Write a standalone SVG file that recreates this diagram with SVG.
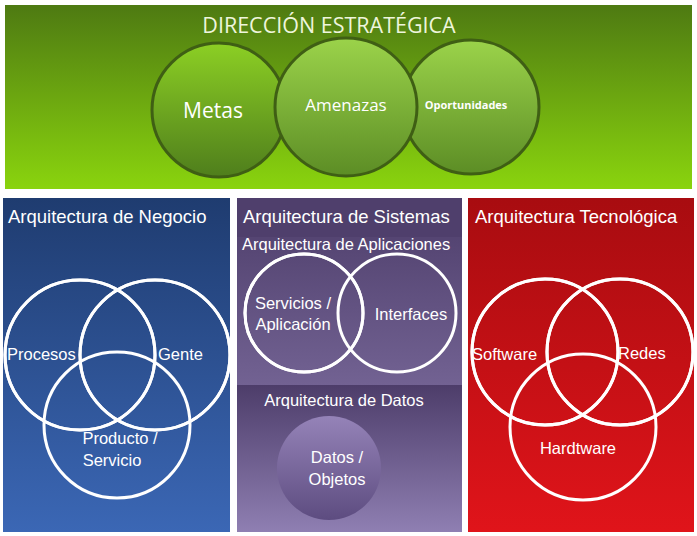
<svg xmlns="http://www.w3.org/2000/svg" width="697" height="536" viewBox="0 0 697 536">
<style>
text{font-family:"Open Sans","Liberation Sans",sans-serif;fill:#fff}
.h{font-family:"Liberation Sans",sans-serif;font-size:18.5px}
.l{font-family:"Liberation Sans",sans-serif;font-size:16.5px}
.w{fill:none;stroke:#fff;stroke-width:3}
.g{stroke:#3f5f14;stroke-width:3}
</style>
<defs>
<linearGradient id="gb" x1="0" y1="0" x2="0" y2="1"><stop offset="0" stop-color="#4e7a12"/><stop offset="1" stop-color="#8ad40e"/></linearGradient>
<linearGradient id="gc1" x1="0" y1="0" x2="0" y2="1"><stop offset="0" stop-color="#8ccf24"/><stop offset="1" stop-color="#4f7e1c"/></linearGradient>
<linearGradient id="gc2" x1="0" y1="0" x2="0" y2="1"><stop offset="0" stop-color="#9bd34a"/><stop offset="1" stop-color="#5c8d25"/></linearGradient>
<linearGradient id="bb" x1="0" y1="0" x2="0" y2="1"><stop offset="0" stop-color="#1f3c70"/><stop offset="1" stop-color="#3b67b5"/></linearGradient>
<linearGradient id="bc" x1="0" y1="0" x2="0" y2="1"><stop offset="0" stop-color="#3b6fc9" stop-opacity=".8"/><stop offset="1" stop-color="#1f3f7a" stop-opacity=".6"/></linearGradient>
<linearGradient id="pb" x1="0" y1="0" x2="0" y2="1"><stop offset="0" stop-color="#4d3d6a"/><stop offset="1" stop-color="#8f7fb2"/></linearGradient>
<linearGradient id="pc" x1="0" y1="0" x2="0" y2="1"><stop offset="0" stop-color="#9583b8"/><stop offset="1" stop-color="#5d4c80"/></linearGradient>
<linearGradient id="rb" x1="0" y1="0" x2="0" y2="1"><stop offset="0" stop-color="#a80c10"/><stop offset="1" stop-color="#e0141a"/></linearGradient>
<linearGradient id="rc" x1="0" y1="0" x2="0" y2="1"><stop offset="0" stop-color="#e8171c" stop-opacity=".7"/><stop offset="1" stop-color="#a00a0e" stop-opacity=".6"/></linearGradient>
</defs>
<rect width="697" height="536" fill="#fff"/>
<g id="estrategica">
<rect x="5" y="5" width="687" height="184" fill="url(#gb)"/>
<text x="329" y="33" text-anchor="middle" font-size="21.5" style="fill:#eef5dc">DIRECCIÓN ESTRATÉGICA</text>
<ellipse cx="219" cy="110" rx="67" ry="67" fill="url(#gc1)" class="g"/>
<ellipse cx="471" cy="107" rx="68" ry="67" fill="url(#gc2)" class="g"/>
<ellipse cx="346" cy="107" rx="71" ry="69" fill="url(#gc2)" class="g"/>
<text x="213" y="118" text-anchor="middle" font-size="21">Metas</text>
<text x="346" y="111" text-anchor="middle" font-size="17">Amenazas</text>
<text x="466" y="109" text-anchor="middle" font-size="11" font-weight="bold">Oportunidades</text>
</g>
<g id="negocio">
<rect x="3" y="198" width="227" height="334" fill="url(#bb)"/>
<text x="8" y="223" class="h">Arquitectura de Negocio</text>
<circle cx="80" cy="355" r="75" fill="url(#bc)" class="w"/>
<circle cx="155" cy="355" r="75" fill="url(#bc)" class="w"/>
<circle cx="117" cy="425" r="73" fill="url(#bc)" class="w"/>
<circle cx="80" cy="355" r="75" class="w"/>
<circle cx="155" cy="355" r="75" class="w"/>
<text x="7" y="360" class="l">Procesos</text>
<text x="158" y="360" class="l">Gente</text>
<text x="120" y="444" text-anchor="middle" class="l">Producto /</text>
<text x="112" y="466" text-anchor="middle" class="l">Servicio</text>
</g>
<g id="sistemas">
<rect x="237" y="198" width="225" height="334" fill="url(#pb)"/>
<rect x="237" y="198" width="225" height="39" fill="#4f3f6c"/>
<rect x="237" y="385" width="225" height="147" fill="url(#pb)"/>
<text x="243" y="223" class="h">Arquitectura de Sistemas</text>
<text x="242" y="250" class="l">Arquitectura de Aplicaciones</text>
<circle cx="304" cy="313" r="59" fill="url(#pc)" class="w"/>
<circle cx="397" cy="313" r="59" fill="url(#pc)" class="w" fill-opacity=".8"/>
<circle cx="304" cy="313" r="59" class="w"/>
<text x="293" y="309" text-anchor="middle" class="l">Servicios /</text>
<text x="293" y="330" text-anchor="middle" class="l">Aplicación</text>
<text x="411" y="320" text-anchor="middle" class="l">Interfaces</text>
<text x="344" y="406" text-anchor="middle" class="l">Arquitectura de Datos</text>
<circle cx="329" cy="468" r="52" fill="url(#pc)"/>
<text x="337" y="463" text-anchor="middle" class="l">Datos /</text>
<text x="337" y="485" text-anchor="middle" class="l">Objetos</text>
</g>
<g id="tecnologica">
<rect x="468" y="198" width="226" height="334" fill="url(#rb)"/>
<text x="475" y="223" class="h">Arquitectura Tecnológica</text>
<circle cx="545" cy="352" r="73" fill="url(#rc)" class="w"/>
<circle cx="620" cy="352" r="73" fill="url(#rc)" class="w"/>
<circle cx="583" cy="427" r="73" fill="url(#rc)" class="w"/>
<circle cx="545" cy="352" r="73" class="w"/>
<circle cx="620" cy="352" r="73" class="w"/>
<text x="472" y="360" class="l">Software</text>
<text x="618" y="359" class="l">Redes</text>
<text x="578" y="454" text-anchor="middle" class="l">Hardtware</text>
</g>
<g id="connectors"/>
</svg>
